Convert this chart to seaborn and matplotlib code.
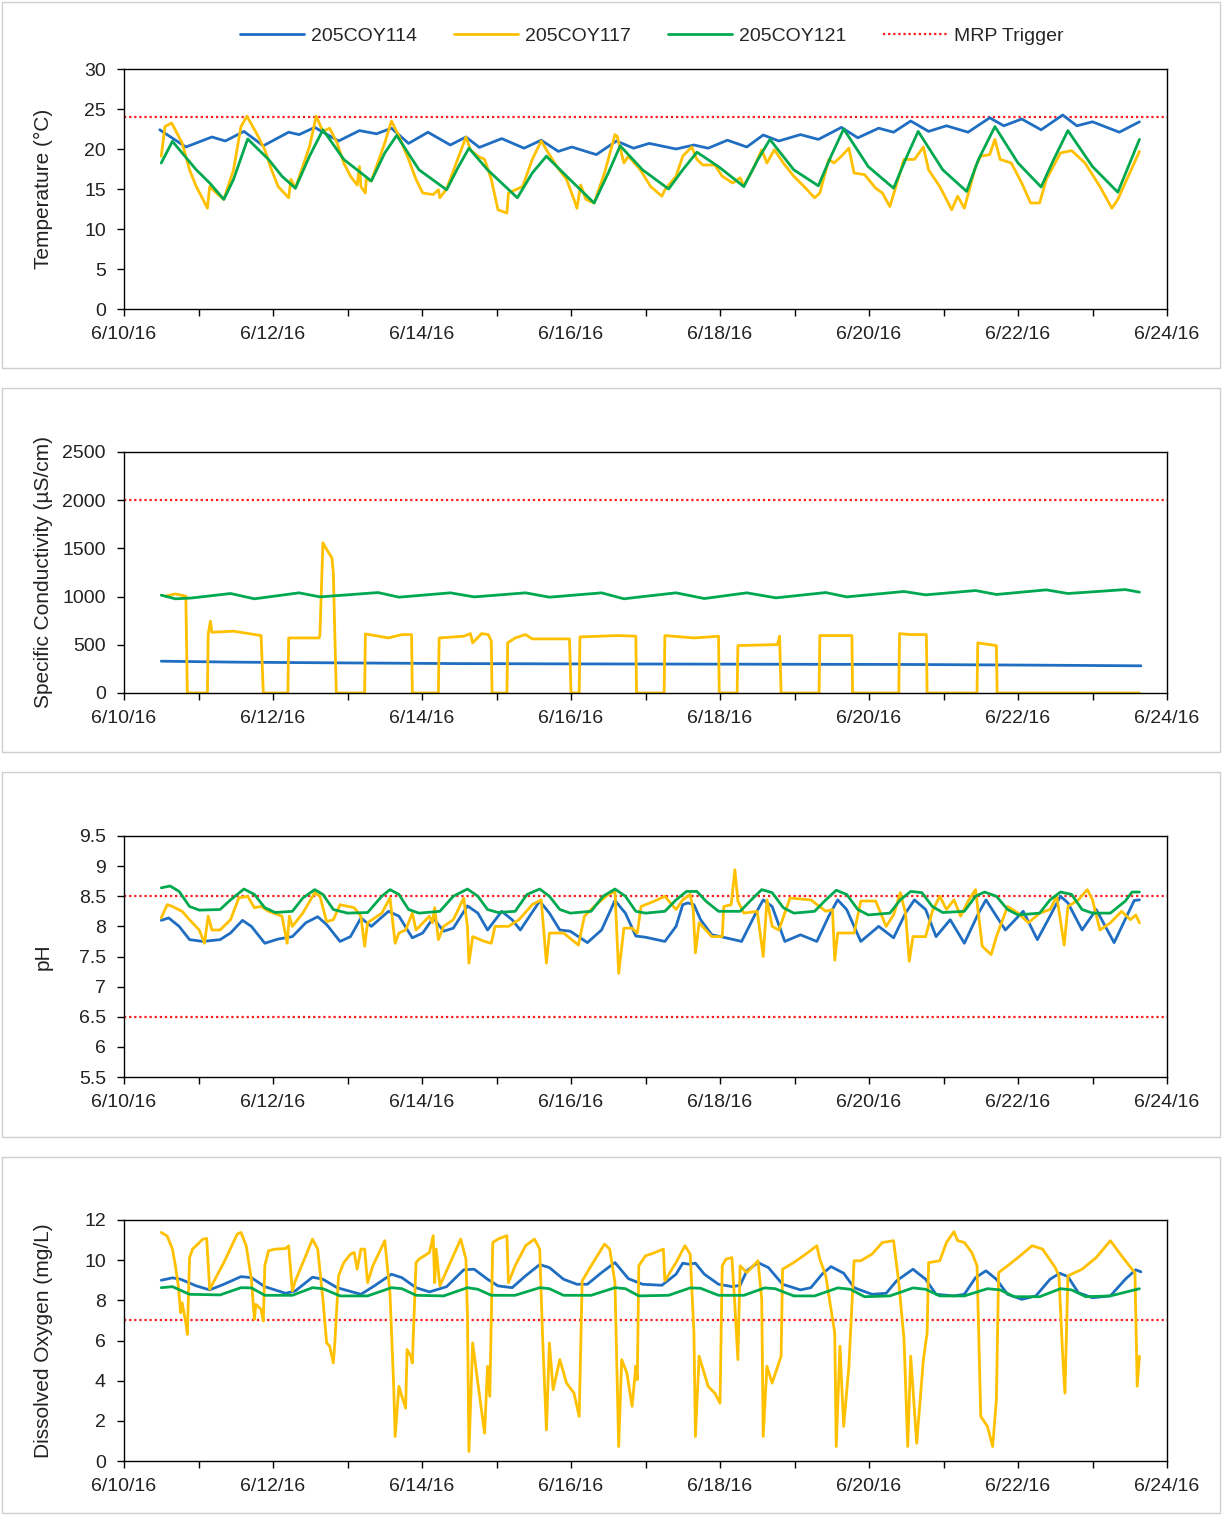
import numpy as np
import pandas as pd
import matplotlib
matplotlib.use("Agg")
import matplotlib.pyplot as plt
import matplotlib.dates as mdates
from matplotlib.lines import Line2D
from matplotlib.patches import Rectangle
from matplotlib import font_manager
import seaborn as sns

# ---------------- DATA (time = days after 6/10/16 00:00) ----------------
SITES = ["205COY114", "205COY117", "205COY121"]

temp_114_t = [0.48,0.83,1.18,1.36,1.61,1.87,2.21,2.35,2.56,2.88,3.16,3.39,3.59,3.82,4.08,4.38,4.59,4.77,5.07,5.37,5.60,5.83,6.01,6.34,6.61,6.84,7.05,7.41,7.65,7.84,8.10,8.36,8.58,8.79,9.08,9.32,9.63,9.85,10.13,10.33,10.56,10.80,11.04,11.33,11.62,11.81,12.05,12.31,12.60,12.79,13.00,13.36,13.63]
temp_114_v = [22.4,20.25,21.5,21.0,22.2,20.4,22.1,21.8,22.7,21.0,22.3,21.9,22.6,20.7,22.1,20.5,21.5,20.2,21.3,20.1,21.1,19.7,20.25,19.3,21.0,20.1,20.7,20.0,20.5,20.1,21.1,20.25,21.75,21.0,21.8,21.2,22.7,21.4,22.6,22.1,23.5,22.2,22.9,22.1,23.9,22.9,23.75,22.4,24.25,22.9,23.4,22.1,23.4]

temp_121_t = [0.50,0.65,0.97,1.15,1.34,1.47,1.66,1.94,2.12,2.30,2.49,2.67,2.95,3.32,3.50,3.66,3.96,4.33,4.49,4.63,4.88,5.28,5.48,5.67,5.94,6.31,6.50,6.66,6.96,7.31,7.50,7.69,7.98,8.32,8.51,8.67,8.99,9.32,9.49,9.66,9.99,10.33,10.49,10.66,10.99,11.31,11.47,11.69,12.00,12.31,12.48,12.67,13.00,13.34,13.63]
temp_121_v = [18.25,20.96,17.4,15.75,13.7,16.2,21.25,18.7,16.6,15.1,19.1,22.4,18.7,16.0,19.5,21.7,17.4,14.9,17.8,20.1,17.4,13.9,17.0,19.1,16.6,13.25,17.0,20.4,17.4,15.0,17.4,19.6,17.8,15.3,18.7,21.2,17.4,15.4,19.1,22.5,17.8,15.1,18.7,22.2,17.4,14.7,18.7,22.8,18.25,15.25,18.7,22.3,17.8,14.6,21.2]

temp_117_t = [0.50,0.55,0.64,0.78,0.88,0.97,1.06,1.12,1.15,1.24,1.34,1.47,1.57,1.65,1.80,1.89,1.98,2.07,2.17,2.21,2.24,2.30,2.49,2.58,2.67,2.76,2.86,2.95,3.04,3.13,3.16,3.18,3.24,3.25,3.32,3.50,3.59,3.69,3.82,3.92,4.01,4.15,4.22,4.24,4.33,4.45,4.59,4.65,4.75,4.84,4.93,5.02,5.14,5.16,5.35,5.48,5.60,5.67,5.81,5.94,6.04,6.08,6.13,6.20,6.31,6.45,6.59,6.62,6.71,6.77,6.93,7.07,7.22,7.26,7.41,7.50,7.62,7.69,7.77,7.93,8.03,8.17,8.27,8.32,8.46,8.56,8.63,8.73,8.85,8.99,9.13,9.27,9.34,9.46,9.53,9.63,9.73,9.80,9.94,10.09,10.18,10.28,10.47,10.61,10.73,10.80,10.95,11.04,11.11,11.19,11.28,11.43,11.50,11.62,11.69,11.76,11.91,12.05,12.17,12.29,12.38,12.57,12.72,12.90,13.10,13.26,13.34,13.63]
temp_117_v = [19.1,22.8,23.25,20.75,17.4,15.3,13.7,12.6,15.3,14.5,13.7,17.4,22.8,24.1,21.6,19.9,17.4,15.3,14.3,13.9,16.2,15.1,20.3,24.1,22.2,22.6,20.75,18.25,16.6,15.5,17.8,15.3,14.5,16.2,16.0,20.75,23.5,21.6,18.7,16.2,14.5,14.3,14.9,13.9,15.0,18.0,21.5,19.9,19.1,18.7,16.2,12.4,12.0,14.5,15.3,18.7,21.0,19.9,17.8,16.2,13.7,12.6,15.5,13.7,13.25,17.0,21.8,21.6,18.25,19.1,17.4,15.3,14.1,14.9,16.6,19.1,20.25,18.7,18.0,18.0,16.6,15.75,16.4,15.4,17.8,19.9,18.25,19.9,18.25,16.6,15.3,13.9,14.5,18.7,18.25,19.1,20.1,17.0,16.8,15.1,14.5,12.8,18.7,18.7,20.25,17.4,15.3,13.7,12.4,14.1,12.6,17.8,19.1,19.3,21.2,18.7,18.25,15.75,13.25,13.25,16.2,19.5,19.8,18.25,15.3,12.6,13.7,19.7]

cond_114_t = [0.50,1.50,3.00,4.50,6.00,7.50,9.00,10.50,12.00,13.65]
cond_114_v = [330,320,312,305,302,300,298,296,290,282]

cond_121_t = [0.50,0.69,0.90,1.43,1.75,2.35,2.63,3.41,3.69,4.38,4.70,5.39,5.71,6.41,6.71,6.93,7.41,7.79,8.36,8.75,9.42,9.70,10.47,10.76,11.43,11.71,12.38,12.67,13.44,13.63]
cond_121_v = [1015,977,985,1032,977,1039,997,1042,994,1039,997,1039,994,1039,977,997,1039,980,1039,987,1042,997,1053,1018,1063,1022,1070,1032,1073,1046]

cond_117_t = [0.55,0.69,0.83,0.85,1.12,1.13,1.16,1.18,1.47,1.84,1.87,2.20,2.21,2.62,2.63,2.67,2.72,2.79,2.81,2.83,2.85,3.23,3.24,3.55,3.73,3.86,3.87,4.22,4.23,4.56,4.65,4.68,4.80,4.89,4.93,4.94,5.14,5.15,5.25,5.39,5.48,5.98,6.00,6.11,6.12,6.64,6.87,6.88,7.25,7.26,7.65,7.98,7.99,8.23,8.24,8.77,8.80,8.82,9.33,9.34,9.77,9.78,10.40,10.41,10.56,10.77,10.78,11.45,11.46,11.71,11.72,13.63]
cond_117_v = [1004,1028,1004,0,0,606,745,630,641,596,0,0,571,571,606,1558,1489,1403,1247,600,0,0,613,571,606,606,0,0,571,589,616,520,616,606,540,0,0,520,571,606,561,561,0,0,582,596,589,0,0,596,571,589,0,0,492,502,589,0,0,596,596,0,0,616,606,606,0,0,520,492,0,0]

ph_114_t = [0.50,0.60,0.74,0.88,1.06,1.29,1.43,1.59,1.71,1.89,2.07,2.26,2.44,2.60,2.72,2.90,3.04,3.18,3.32,3.55,3.69,3.87,4.01,4.15,4.29,4.42,4.61,4.75,4.88,5.07,5.21,5.32,5.58,5.71,5.85,5.99,6.22,6.41,6.59,6.73,6.87,7.00,7.26,7.41,7.50,7.57,7.65,7.74,7.89,8.08,8.29,8.46,8.58,8.70,8.87,9.08,9.30,9.46,9.58,9.70,9.89,10.13,10.33,10.49,10.61,10.76,10.90,11.09,11.28,11.47,11.57,11.71,11.83,12.07,12.26,12.43,12.57,12.67,12.86,13.05,13.29,13.56,13.63]
ph_114_v = [8.10,8.14,8.00,7.78,7.75,7.78,7.89,8.10,8.00,7.72,7.79,7.83,8.06,8.16,8.03,7.75,7.83,8.14,8.00,8.25,8.17,7.81,7.89,8.14,7.92,7.97,8.34,8.22,7.94,8.25,8.11,7.94,8.42,8.22,7.94,7.92,7.73,7.94,8.43,8.22,7.84,7.82,7.75,8.00,8.36,8.39,8.36,8.11,7.86,7.81,7.75,8.17,8.44,8.33,7.75,7.86,7.75,8.17,8.44,8.28,7.75,8.00,7.81,8.22,8.44,8.28,7.83,8.11,7.72,8.22,8.44,8.17,7.94,8.25,7.78,8.17,8.50,8.39,7.94,8.28,7.73,8.43,8.44]

ph_121_t = [0.50,0.62,0.74,0.88,1.01,1.29,1.43,1.61,1.75,1.89,2.03,2.26,2.40,2.56,2.67,2.81,3.00,3.27,3.46,3.57,3.69,3.82,3.96,4.24,4.42,4.61,4.75,4.88,5.02,5.25,5.41,5.58,5.71,5.85,5.99,6.27,6.43,6.59,6.73,6.87,7.00,7.26,7.41,7.55,7.69,7.81,7.98,8.27,8.42,8.56,8.70,8.85,8.99,9.27,9.42,9.56,9.70,9.85,9.99,10.28,10.42,10.56,10.71,10.85,10.99,11.28,11.43,11.55,11.71,11.86,12.00,12.29,12.43,12.57,12.72,12.86,13.00,13.24,13.44,13.53,13.63]
ph_121_v = [8.64,8.67,8.58,8.33,8.27,8.28,8.44,8.62,8.53,8.31,8.23,8.25,8.47,8.61,8.53,8.28,8.22,8.23,8.50,8.61,8.53,8.28,8.22,8.25,8.50,8.62,8.50,8.28,8.23,8.25,8.53,8.62,8.50,8.28,8.22,8.25,8.50,8.62,8.50,8.25,8.22,8.25,8.44,8.58,8.58,8.42,8.25,8.25,8.44,8.61,8.56,8.31,8.22,8.25,8.44,8.60,8.53,8.28,8.19,8.22,8.44,8.58,8.56,8.33,8.23,8.25,8.50,8.57,8.50,8.28,8.19,8.22,8.44,8.57,8.53,8.28,8.22,8.22,8.42,8.57,8.57]

ph_117_t = [0.50,0.58,0.65,0.78,0.88,1.01,1.08,1.13,1.18,1.29,1.43,1.54,1.66,1.75,1.84,1.94,2.12,2.19,2.22,2.26,2.40,2.56,2.63,2.72,2.81,2.90,3.09,3.18,3.23,3.27,3.46,3.57,3.62,3.64,3.69,3.78,3.87,3.92,4.10,4.14,4.17,4.22,4.29,4.42,4.56,4.61,4.63,4.68,4.84,4.93,4.98,5.16,5.30,5.48,5.60,5.67,5.71,5.90,6.10,6.18,6.31,6.50,6.59,6.64,6.71,6.82,6.89,6.94,7.12,7.26,7.41,7.50,7.60,7.64,7.67,7.72,7.89,8.03,8.05,8.15,8.20,8.24,8.32,8.50,8.58,8.63,8.70,8.79,8.94,9.22,9.42,9.51,9.54,9.58,9.80,9.89,10.09,10.23,10.33,10.42,10.49,10.54,10.59,10.76,10.85,10.95,11.04,11.14,11.23,11.33,11.43,11.52,11.64,11.71,11.86,12.00,12.14,12.29,12.43,12.52,12.62,12.67,12.81,12.93,13.00,13.10,13.24,13.39,13.51,13.58,13.63]
ph_117_v = [8.14,8.36,8.33,8.25,8.11,7.94,7.72,8.17,7.94,7.94,8.11,8.47,8.50,8.31,8.33,8.25,8.17,7.72,8.17,8.00,8.22,8.56,8.50,8.08,8.11,8.36,8.31,8.17,7.67,8.06,8.22,8.47,7.94,7.72,7.89,7.94,8.22,7.94,8.17,8.06,8.31,7.78,8.00,8.11,8.47,8.00,7.39,7.83,7.75,7.72,8.00,8.00,8.11,8.36,8.44,7.39,7.89,7.89,7.69,8.17,8.33,8.53,8.58,7.22,7.97,7.97,7.89,8.33,8.42,8.50,8.28,8.44,8.53,8.28,7.56,8.06,7.83,7.83,8.33,8.36,8.94,8.42,8.22,8.25,7.50,8.44,8.00,7.94,8.47,8.44,8.25,8.28,7.44,7.89,7.89,8.42,8.42,8.00,8.19,8.56,8.22,7.42,7.83,7.83,8.25,8.50,8.28,8.44,8.17,8.42,8.61,7.67,7.53,7.83,8.33,8.22,8.06,8.22,8.28,8.50,7.69,8.33,8.44,8.61,8.44,7.94,8.06,8.25,8.11,8.19,8.06]

do_114_t = [0.50,0.65,0.76,0.97,1.15,1.34,1.57,1.71,1.89,2.17,2.30,2.53,2.67,2.86,3.18,3.36,3.59,3.73,3.92,4.10,4.33,4.56,4.70,4.88,5.02,5.21,5.39,5.58,5.71,5.90,6.08,6.22,6.41,6.59,6.77,6.96,7.22,7.41,7.50,7.58,7.67,7.79,7.98,8.17,8.27,8.36,8.51,8.65,8.84,9.08,9.22,9.37,9.49,9.66,9.80,10.04,10.23,10.37,10.59,10.76,10.90,11.14,11.28,11.43,11.57,11.71,11.86,12.05,12.24,12.43,12.56,12.67,12.81,13.00,13.24,13.44,13.58,13.65]
do_114_v = [9.00,9.12,9.05,8.72,8.52,8.80,9.18,9.13,8.68,8.35,8.47,9.15,9.05,8.63,8.30,8.72,9.30,9.13,8.63,8.42,8.68,9.52,9.55,9.05,8.72,8.63,9.22,9.78,9.63,9.05,8.80,8.80,9.38,9.88,9.08,8.80,8.75,9.30,9.85,9.80,9.85,9.30,8.80,8.68,8.75,9.47,9.88,9.63,8.80,8.52,8.63,9.30,9.68,9.35,8.63,8.30,8.35,8.97,9.55,9.05,8.30,8.22,8.30,9.13,9.47,9.05,8.30,8.05,8.22,9.05,9.35,9.18,8.38,8.13,8.22,9.05,9.52,9.42]

do_121_t = [0.50,0.65,0.88,1.29,1.57,1.71,1.89,2.26,2.53,2.67,2.90,3.27,3.59,3.73,3.92,4.29,4.61,4.75,4.93,5.25,5.58,5.71,5.90,6.27,6.59,6.73,6.91,7.31,7.60,7.74,7.98,8.32,8.60,8.74,8.99,9.27,9.58,9.75,9.94,10.28,10.59,10.76,10.95,11.28,11.59,11.76,11.95,12.29,12.57,12.72,12.91,13.24,13.63]
do_121_v = [8.63,8.68,8.30,8.27,8.63,8.62,8.25,8.25,8.63,8.58,8.22,8.22,8.63,8.58,8.25,8.22,8.63,8.55,8.25,8.25,8.63,8.58,8.25,8.25,8.63,8.58,8.22,8.25,8.62,8.60,8.25,8.25,8.62,8.58,8.22,8.22,8.62,8.55,8.18,8.22,8.62,8.55,8.22,8.22,8.58,8.52,8.18,8.18,8.58,8.52,8.18,8.22,8.58]

do_117_t = [0.50,0.58,0.65,0.69,0.73,0.76,0.78,0.83,0.85,0.88,0.92,1.06,1.11,1.15,1.34,1.52,1.57,1.64,1.71,1.75,1.77,1.84,1.87,1.89,1.94,2.03,2.17,2.21,2.26,2.30,2.44,2.53,2.60,2.67,2.72,2.76,2.81,2.83,2.88,2.95,3.04,3.09,3.13,3.18,3.23,3.27,3.34,3.50,3.57,3.62,3.64,3.69,3.73,3.78,3.80,3.85,3.87,3.92,3.96,4.10,4.15,4.17,4.19,4.24,4.38,4.52,4.59,4.61,4.63,4.68,4.75,4.84,4.88,4.91,4.95,5.02,5.14,5.16,5.25,5.39,5.51,5.58,5.62,5.67,5.71,5.76,5.85,5.94,6.04,6.11,6.15,6.27,6.45,6.52,6.59,6.64,6.68,6.75,6.82,6.87,6.89,6.91,7.00,7.07,7.24,7.26,7.41,7.53,7.60,7.65,7.67,7.72,7.84,7.93,8.00,8.03,8.08,8.16,8.20,8.24,8.27,8.36,8.51,8.56,8.58,8.63,8.70,8.82,8.84,8.99,9.18,9.30,9.34,9.42,9.54,9.56,9.61,9.66,9.73,9.80,9.89,10.04,10.18,10.33,10.40,10.47,10.52,10.56,10.64,10.73,10.78,10.80,10.95,11.04,11.14,11.19,11.28,11.38,11.45,11.50,11.59,11.66,11.71,11.74,11.86,12.00,12.19,12.33,12.50,12.55,12.60,12.63,12.67,12.86,13.05,13.24,13.39,13.53,13.57,13.60,13.63]
do_117_v = [11.38,11.20,10.55,9.72,8.70,7.38,7.88,6.88,6.30,10.13,10.55,11.05,11.08,8.55,9.88,11.30,11.38,10.72,9.05,7.05,7.80,7.55,6.97,9.72,10.47,10.55,10.58,10.72,8.47,8.97,10.22,11.05,10.55,8.05,5.88,5.72,4.88,5.88,9.22,9.88,10.30,10.38,9.55,10.55,10.55,8.88,9.72,10.97,8.38,3.72,1.22,3.72,3.22,2.63,5.55,5.22,4.88,9.88,10.05,10.38,11.22,8.88,10.55,8.72,9.88,11.05,10.05,7.22,0.47,5.88,3.88,1.38,4.72,3.22,10.88,11.05,11.22,8.88,9.72,10.72,11.05,10.55,6.05,1.55,5.88,3.55,5.05,3.88,3.38,2.22,8.97,9.72,10.80,10.55,8.88,0.72,5.05,4.38,2.72,4.72,4.05,9.72,10.22,10.30,10.55,8.97,9.88,10.72,10.30,6.38,1.22,5.22,3.72,3.38,2.88,9.72,10.05,10.13,7.72,5.05,9.72,9.38,9.97,8.05,1.22,4.72,3.88,5.22,9.55,9.88,10.38,10.72,10.05,9.22,6.38,0.72,5.72,1.72,4.72,9.97,9.97,10.30,10.88,10.97,8.88,6.05,0.72,5.22,0.88,5.05,6.38,9.88,9.97,10.88,11.42,10.97,10.88,10.38,9.72,2.22,1.72,0.72,3.05,9.38,9.72,10.13,10.72,10.55,9.63,9.22,5.22,3.38,9.22,9.55,10.13,10.97,10.22,9.55,9.38,3.72,5.22]

TRIGGERS = {"temp": [24], "cond": [2000], "ph": [8.5, 6.5], "do": [7]}
Y_LABELS = {"temp": "Temperature (°C)", "cond": "Specific Conductivity (µS/cm)",
            "ph": "pH", "do": "Dissolved Oxygen (mg/L)"}
Y_TICKS = {"temp": [0, 5, 10, 15, 20, 25, 30], "cond": [0, 500, 1000, 1500, 2000, 2500],
           "ph": [5.5, 6, 6.5, 7, 7.5, 8, 8.5, 9, 9.5], "do": [0, 2, 4, 6, 8, 10, 12]}

COLORS = {"205COY114": "#1F6EC1", "205COY117": "#FFC000", "205COY121": "#00A94F"}
TRIGGER_COLOR = "#FF1A1A"

# ---------------- STYLE ----------------
sns.set_style("ticks")
names = {f.name for f in font_manager.fontManager.ttflist}
if "Liberation Sans Narrow" in names:
    FAMILY, FS, FSL = "Liberation Sans Narrow", 16, 17
else:
    FAMILY, FS, FSL = "Liberation Sans", 14, 15
plt.rcParams["font.family"] = [FAMILY, "DejaVu Sans"]

START = pd.Timestamp("2016-06-10")


def to_time(days):
    return START + pd.to_timedelta(np.asarray(days, dtype=float), unit="D")


def make_df(series):
    frames = []
    for site, (t, v) in series.items():
        frames.append(pd.DataFrame({"time": to_time(t), "value": v, "site": site}))
    return pd.concat(frames, ignore_index=True)


panels = [
    ("temp", {"205COY114": (temp_114_t, temp_114_v), "205COY117": (temp_117_t, temp_117_v),
              "205COY121": (temp_121_t, temp_121_v)}),
    ("cond", {"205COY114": (cond_114_t, cond_114_v), "205COY117": (cond_117_t, cond_117_v),
              "205COY121": (cond_121_t, cond_121_v)}),
    ("ph", {"205COY114": (ph_114_t, ph_114_v), "205COY117": (ph_117_t, ph_117_v),
            "205COY121": (ph_121_t, ph_121_v)}),
    ("do", {"205COY114": (do_114_t, do_114_v), "205COY117": (do_117_t, do_117_v),
            "205COY121": (do_121_t, do_121_v)}),
]

W, H = 1225, 1515
fig = plt.figure(figsize=(W / 100, H / 100), dpi=100)

# axes pixel boxes: (top, bottom)
boxes = [(69, 309), (452, 693), (836, 1077), (1220, 1461)]
frames_px = [(2, 368), (388, 752), (772, 1137), (1157, 1513)]
LEFT, RIGHT = 124, 1167

for (y0, y1) in frames_px:
    fig.add_artist(Rectangle((2 / W, 1 - y1 / H), (1220 - 2) / W, (y1 - y0) / H,
                             transform=fig.transFigure, fill=False,
                             edgecolor="#cfcfcf", lw=1.0))


def date_fmt(x, pos):
    d = mdates.num2date(x)
    if d.day % 2 == 0:
        return f"{d.month}/{d.day}/{d.strftime('%y')}"
    return ""


for (key, series), (top, bot) in zip(panels, boxes):
    ax = fig.add_axes([LEFT / W, 1 - bot / H, (RIGHT - LEFT) / W, (bot - top) / H])
    df = make_df(series)
    sns.lineplot(data=df, x="time", y="value", hue="site", palette=COLORS,
                 hue_order=SITES, sort=False, estimator=None, legend=False,
                 lw=2.0, ax=ax)
    for trig in TRIGGERS[key]:
        ax.axhline(trig, color=TRIGGER_COLOR, ls=(0, (1, 1.3)), lw=1.6, zorder=1)
    ticks = Y_TICKS[key]
    ax.set_ylim(ticks[0], ticks[-1])
    ax.set_yticks(ticks)
    ax.set_yticklabels([f"{t:g}" for t in ticks])
    ax.set_xlim(pd.Timestamp("2016-06-10"), pd.Timestamp("2016-06-24"))
    ax.xaxis.set_major_locator(mdates.DayLocator())
    ax.xaxis.set_major_formatter(plt.FuncFormatter(date_fmt))
    ax.tick_params(axis="both", direction="out", length=5, width=1, color="black",
                   labelsize=FS, labelcolor="#222222")
    ax.tick_params(axis="y", pad=8)
    ax.tick_params(axis="x", pad=7)
    ax.set_xlabel("")
    ax.set_ylabel(Y_LABELS[key], fontsize=FSL, color="#222222")
    ax.yaxis.set_label_coords(-0.068, 0.5)
    for s in ax.spines.values():
        s.set_visible(True)
        s.set_color("black")
        s.set_linewidth(1.0)

handles = [Line2D([0], [0], color=COLORS[s], lw=2.0) for s in SITES]
handles.append(Line2D([0], [0], color=TRIGGER_COLOR, lw=1.6, ls=(0, (1, 1.3))))
labels = SITES + ["MRP Trigger"]
fig.legend(handles, labels, loc="center", bbox_to_anchor=(0.532, 0.976), ncol=4,
           frameon=False, fontsize=FS, handlelength=3.3, handletextpad=0.35,
           columnspacing=1.9)

fig.savefig("out.png", dpi=100)
